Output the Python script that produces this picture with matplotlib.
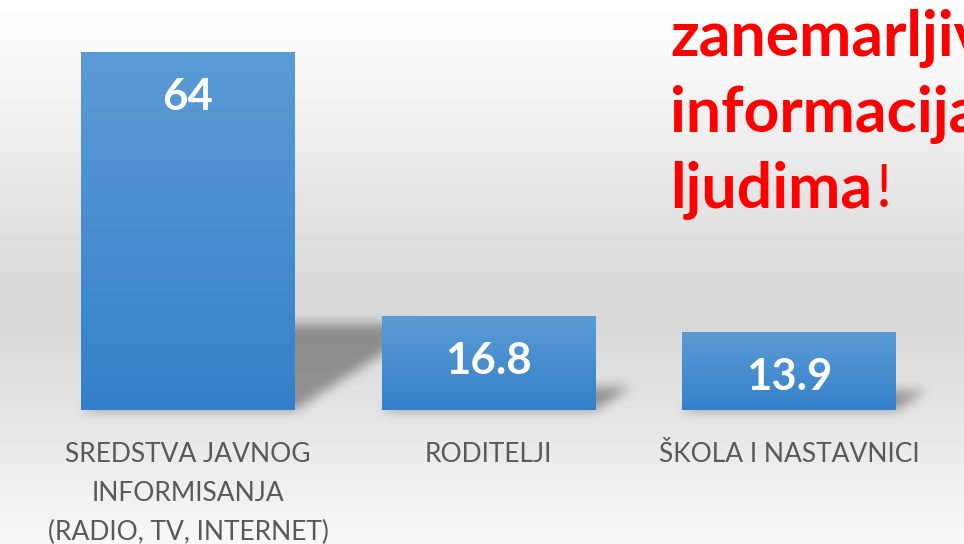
import numpy as np
import matplotlib
matplotlib.use('Agg')
import matplotlib.pyplot as plt

# data
categories = ['SREDSTVA JAVNOG\nINFORMISANJA\n(RADIO, TV, INTERNET)', 'RODITELJI', 'ŠKOLA I NASTAVNICI']
values = [64, 16.8, 13.9]
value_labels = ['64', '16.8', '13.9']
note_lines = ['zanemarljiv', 'informacija', 'ljudima']

W, H = 964, 544
fig = plt.figure(figsize=(W / 100, H / 100), dpi=100)
ax = fig.add_axes([0, 0, 1, 1])
ax.axis('off')

# pixel mapping: category 0 at x=188px, step 300.5px; y=0 at 410px from top, 5.594 px per unit
px_x, px_y = 300.5, 5.594
xlim = (-188 / px_x, (W - 188) / px_x)
ylim = (-(H - 410) / px_y, 410 / px_y)

# background: white -> grey -> lighter
stops = [0, 0.1, 0.3, 0.5, 0.6, 0.75, 1.0]
levels = [255, 250, 234, 219, 217, 228, 248]
t = np.linspace(0, 1, H)
g = np.interp(t, stops, levels) / 255.0
bg = np.dstack([g, g, g]).reshape(H, 1, 3)
ax.imshow(bg, extent=[xlim[0], xlim[1], ylim[0], ylim[1]], aspect='auto', zorder=0, origin='upper')

bar_w = 214 / px_x
xs = np.arange(len(values))

# perspective drop shadows (skewed, squashed, blurred)
k, slope = 0.24, 1.55
xx = (np.arange(W) + 0.5) / px_x + xlim[0]
yy = ylim[1] - (np.arange(H) + 0.5) / px_y
X, Y = np.meshgrid(xx, yy)
mask = np.zeros((H, W))
for x, v in zip(xs, values):
    sh = Y * px_y * slope / px_x
    inside = (Y >= 0) & (Y <= v * k) & (X >= x - bar_w / 2 + sh) & (X <= x + bar_w / 2 + sh)
    mask[inside] = 1.0

def box_blur(a, r):
    kern = np.ones(2 * r + 1) / (2 * r + 1)
    a = np.apply_along_axis(lambda m: np.convolve(m, kern, mode='same'), 0, a)
    a = np.apply_along_axis(lambda m: np.convolve(m, kern, mode='same'), 1, a)
    return a

mask = box_blur(box_blur(mask, 6), 6)
shadow = np.zeros((H, W, 4))
shadow[..., 3] = mask * 0.36
ax.imshow(shadow, extent=[xlim[0], xlim[1], ylim[0], ylim[1]], aspect='auto', zorder=1, origin='upper')

# bars with vertical gradient
top_c = np.array([91, 155, 213]) / 255.0
bot_c = np.array([52, 128, 201]) / 255.0
grad = np.linspace(0, 1, 100)[:, None, None] * (bot_c - top_c) + top_c
bars = ax.bar(xs, values, width=bar_w, color='#5b9bd5', zorder=2)
for rect, x, v in zip(bars, xs, values):
    im = ax.imshow(grad, extent=[x - bar_w / 2, x + bar_w / 2, 0, v], aspect='auto', zorder=3, origin='upper')
    im.set_clip_path(rect)

for x, v, lab in zip(xs, values, value_labels):
    ax.text(x, v - 45 / px_y, lab, ha='center', va='center', color='white',
            fontsize=31.5, fontweight='bold', family='Lato', zorder=4)

for x, lab in zip(xs, categories):
    ax.text(x, -32 / px_y, lab, ha='center', va='top', color='#595959',
            fontsize=19, family='Lato', linespacing=1.7, zorder=4)

ax.set_xlim(xlim)
ax.set_ylim(ylim)

# red note, clipped at the right edge as in the original slide
baselines = [55, 131, 207]
last = None
for line, yb in zip(note_lines, baselines):
    last = ax.text(670 / W, 1 - yb / H, line, transform=fig.transFigure, ha='left', va='baseline',
                   color='#ff0000', fontsize=45, fontweight='bold', family='Lato', zorder=5)

fig.canvas.draw()
bb = last.get_window_extent(renderer=fig.canvas.get_renderer())
ax.text((bb.x1 + 4) / W, 1 - 207 / H, '!', transform=fig.transFigure, ha='left', va='baseline',
        color='#ff0000', fontsize=43, family='Lato', zorder=5)

fig.savefig('out.png', dpi=100)
